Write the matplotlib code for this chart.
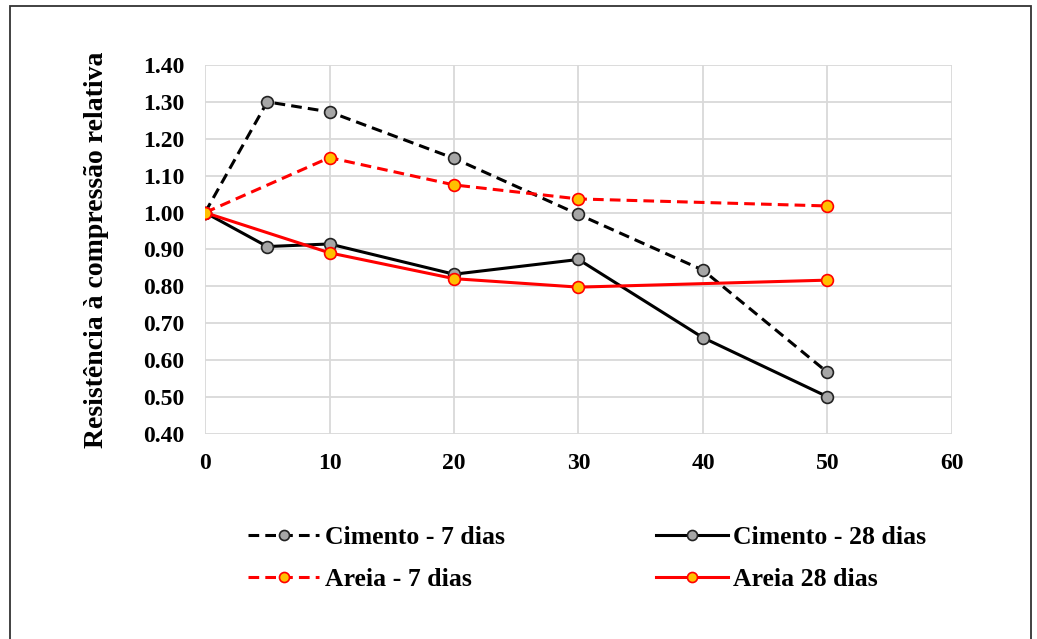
import matplotlib.pyplot as plt
from matplotlib.patches import Rectangle

# dados
x_cim = [0, 5, 10, 20, 30, 40, 50]
cim_7 = [1.00, 1.30, 1.273, 1.147, 0.995, 0.844, 0.567]
cim_28 = [1.00, 0.908, 0.915, 0.833, 0.873, 0.661, 0.501]

x_are = [0, 10, 20, 30, 50]
are_7 = [1.00, 1.149, 1.075, 1.037, 1.018]
are_28 = [1.00, 0.891, 0.821, 0.798, 0.817]

plt.rcParams["font.family"] = ["Liberation Serif", "DejaVu Serif"]
plt.rcParams["font.weight"] = "bold"

fig = plt.figure(figsize=(10.37, 6.39), dpi=100)
ax = fig.add_axes([0.1977, 0.3208, 0.7203, 0.5775])

gray = "#A6A6A6"
gold = "#FFC000"
dash = (0, (3.5, 2))

l1, = ax.plot(x_cim, cim_7, color="black", lw=2.2, linestyle=dash, marker="o", ms=8.5,
              mfc=gray, mec="#222222", mew=1.2, label="Cimento - 7 dias", zorder=3)
l2, = ax.plot(x_cim, cim_28, color="black", lw=2.2, marker="o", ms=8.5,
              mfc=gray, mec="#222222", mew=1.2, label="Cimento - 28 dias", zorder=3)
l3, = ax.plot(x_are, are_7, color="red", lw=2.2, linestyle=dash, marker="o", ms=8.5,
              mfc=gold, mec="red", mew=1.2, label="Areia - 7 dias", zorder=4)
l4, = ax.plot(x_are, are_28, color="red", lw=2.2, marker="o", ms=8.5,
              mfc=gold, mec="red", mew=1.2, label="Areia 28 dias", zorder=4)

ax.set_xlim(0, 60)
ax.set_ylim(0.40, 1.40)
ax.set_xticks(range(0, 61, 10))
ax.set_yticks([0.4 + 0.1 * i for i in range(11)])
ax.set_yticklabels([f"{0.4 + 0.1 * i:.2f}" for i in range(11)])
ax.grid(True, color="#D9D9D9", lw=1.3)
ax.set_axisbelow(True)
for s in ax.spines.values():
    s.set_visible(False)
ax.tick_params(axis="y", length=0, labelsize=17, pad=15)
ax.tick_params(axis="x", length=0, labelsize=17, pad=14)
for lab in ax.get_xticklabels() + ax.get_yticklabels():
    lab.set_fontweight("bold")

ax.set_ylabel("Resistência à compressão relativa", fontsize=20, fontweight="bold", labelpad=24)

fig.legend([l1, l3, l2, l4], [l1.get_label(), l3.get_label(), l2.get_label(), l4.get_label()],
           loc="upper left", bbox_to_anchor=(0.2164, 0.213), ncol=2, frameon=False,
           handlelength=2.8, handletextpad=0.2, columnspacing=5.9, markerscale=0.85,
           labelspacing=0.75, prop={"weight": "bold", "size": 18.5})

# moldura
fig.patches.append(Rectangle((10 / 1037, -0.05), 1021 / 1037, 1.05 - 6 / 639,
                             transform=fig.transFigure, fill=False, ec="#333333",
                             lw=1.3, clip_on=False))

fig.savefig("out.png", dpi=100)
